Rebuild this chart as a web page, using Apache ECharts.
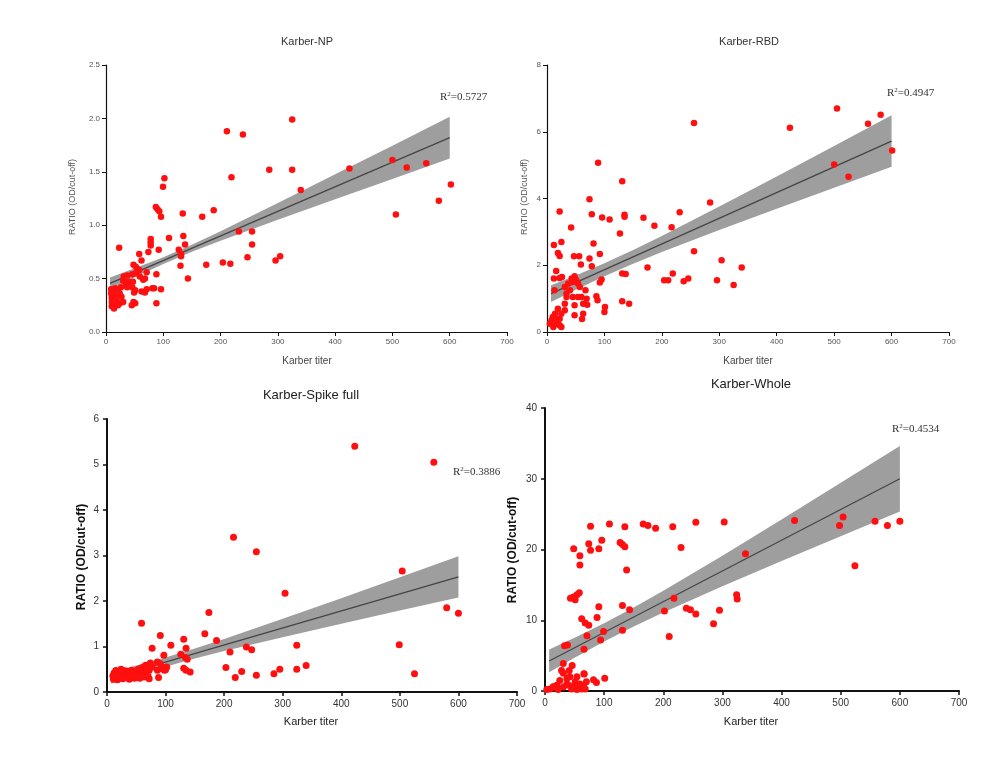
<!DOCTYPE html>
<html>
<head>
<meta charset="utf-8">
<script src="https://cdn.jsdelivr.net/npm/echarts@6/dist/echarts.min.js"></script>
<style>
html,body{margin:0;padding:0;background:#fff;}
#c{width:1008px;height:776px;}
</style>
</head>
<body>
<div id="c"></div>
<script>
// ---- Data ----
const titles = ['Karber-NP', 'Karber-RBD', 'Karber-Spike full', 'Karber-Whole'];
const r2Labels = ['0.5727', '0.4947', '0.3886', '0.4534'];
const xTicks = [0, 100, 200, 300, 400, 500, 600, 700];
const yMaxes = [2.5, 8, 6, 40];
const yIntervals = [0.5, 2, 1, 10];

const npPoints = [[23,0.79],[325,1.99],[211,1.88],[239,1.85],[285,1.52],[325,1.52],[219,1.45],[102,1.44],[99.5,1.36],[340,1.33],[425,1.53],[500,1.61],[525,1.54],[559,1.58],[602,1.38],[581,1.23],[506,1.10],[87,1.17],[90,1.15],[93,1.13],[96,1.08],[134,1.11],[168,1.08],[188,1.14],[110,0.88],[135,0.90],[138,0.82],[78,0.87],[78,0.84],[78,0.81],[74,0.75],[92,0.77],[58,0.73],[62,0.67],[127,0.77],[131,0.73],[131,0.71],[130,0.62],[232,0.94],[255,0.94],[255,0.82],[247,0.70],[304,0.71],[296,0.67],[204,0.65],[217,0.64],[175,0.63],[143,0.50],[96,0.40],[88,0.27],[88,0.54],[81,0.41],[71,0.56],[48,0.63],[52,0.61],[55,0.59],[58,0.58],[31,0.52],[37,0.53],[46,0.54],[52,0.55],[30,0.48],[39,0.47],[47,0.47],[59,0.52],[65,0.49],[68,0.50],[84,0.41],[71,0.40],[62,0.38],[68,0.37],[51,0.39],[49,0.37],[46,0.42],[43,0.44],[35,0.45],[37,0.42],[16,0.41],[21,0.39],[13,0.36],[19,0.33],[10,0.32],[16,0.28],[13,0.25],[24,0.27],[30,0.28],[10,0.24],[21,0.25],[48,0.28],[51,0.27],[45,0.25],[9,0.40],[9,0.36],[10,0.28],[24,0.36],[27,0.33],[14,0.22],[18,0.30],[26,0.42]];

const rbdPoints = [[505,6.70],[581,6.51],[559,6.24],[256,6.26],[423,6.12],[601,5.44],[500,5.02],[525,4.65],[89,5.07],[131,4.52],[284,3.88],[74,3.98],[22,3.61],[78,3.53],[96,3.43],[109,3.37],[135,3.51],[135,3.45],[168,3.42],[187,3.18],[231,3.59],[217,3.14],[42,3.13],[127,2.95],[12,2.61],[25,2.70],[81,2.65],[92,2.34],[19,2.37],[22,2.28],[47,2.27],[56,2.27],[74,2.20],[78,1.97],[59,2.02],[256,2.42],[304,2.15],[339,1.93],[175,1.93],[219,1.75],[246,1.60],[204,1.55],[211,1.55],[238,1.52],[296,1.55],[325,1.41],[131,1.75],[137,1.74],[16,1.83],[12,1.60],[22,1.62],[26,1.65],[92,1.48],[95,1.57],[43,1.60],[48,1.67],[51,1.55],[45,1.50],[54,1.45],[57,1.35],[37,1.45],[31,1.35],[40,1.25],[34,1.15],[13,1.25],[67,1.25],[54,1.05],[60,1.05],[45,1.05],[34,1.05],[86,1.07],[88,0.95],[70,0.82],[48,0.80],[131,0.92],[143,0.85],[101,0.75],[100,0.60],[69,1.00],[63,0.85],[31,0.85],[63,0.55],[48,0.50],[61,0.39],[31,0.65],[25,0.55],[22,0.40],[14,0.55],[10,0.45],[8,0.35],[16,0.25],[22,0.20],[25,0.15],[11,0.15],[5,0.25],[19,0.30],[19,0.70],[13,0.40]];

const spikePoints = [[423,5.40],[558,5.05],[216,3.40],[255,3.08],[304,2.17],[504,2.66],[174,1.75],[580,1.85],[600,1.73],[59,1.51],[167,1.28],[91,1.24],[131,1.16],[187,1.13],[109,1.03],[77,0.96],[135,0.96],[238,0.99],[247,0.93],[324,1.03],[499,1.04],[210,0.88],[97,0.81],[126,0.83],[134,0.76],[137,0.72],[203,0.54],[230,0.45],[219,0.32],[255,0.37],[285,0.40],[295,0.50],[324,0.50],[340,0.58],[525,0.40],[131,0.52],[135,0.48],[142,0.44],[88,0.32],[98,0.48],[102,0.55],[91,0.62],[94,0.51],[74,0.64],[86,0.66],[94,0.55],[100,0.49],[86,0.48],[77,0.55],[66,0.59],[72,0.48],[63,0.48],[58,0.52],[10,0.35],[12,0.42],[14,0.30],[15,0.47],[17,0.38],[18,0.27],[20,0.44],[21,0.33],[23,0.40],[24,0.50],[26,0.36],[27,0.29],[29,0.43],[30,0.38],[32,0.32],[33,0.46],[35,0.40],[36,0.35],[38,0.28],[39,0.43],[41,0.37],[42,0.48],[44,0.33],[45,0.41],[47,0.30],[48,0.45],[50,0.38],[51,0.34],[53,0.50],[54,0.42],[56,0.30],[57,0.45],[60,0.37],[62,0.55],[64,0.33],[65,0.44],[67,0.40],[69,0.52],[70,0.35],[72,0.29],[11,0.28],[13,0.38],[16,0.33],[25,0.31],[28,0.47],[46,0.36],[55,0.39],[61,0.41]];

const wholePoints = [[422,24.1],[504,24.6],[498,23.4],[558,24.0],[579,23.4],[600,24.0],[524,17.7],[339,19.4],[303,23.9],[255,23.85],[216,23.2],[187,23.0],[174,23.4],[166,23.6],[109,23.6],[77,23.3],[135,23.2],[230,20.3],[96,21.3],[74,20.8],[77,19.9],[91,20.1],[48.5,20.1],[59,19.1],[59,17.8],[127,21.0],[131,20.7],[135,20.4],[138,17.1],[43,13.1],[48,13.3],[51,12.9],[54,13.6],[58,13.9],[62,10.2],[68,9.6],[74,9.3],[91,11.9],[88,10.4],[131,12.1],[143,11.5],[71,7.8],[94,7.2],[99,8.4],[131,8.6],[66,5.9],[33,6.4],[38,6.5],[31,3.9],[46,3.6],[202,11.3],[218,13.1],[239,11.7],[246,11.5],[255,10.9],[295,11.4],[324,13.6],[325,13.0],[285,9.5],[210,7.7],[101,1.8],[66,2.4],[87,1.2],[82,1.6],[54,2.0],[28,2.9],[31,2.5],[42,2.0],[37,1.75],[51,1.3],[59,1.0],[65,0.8],[37,1.0],[25,1.5],[20,0.8],[14,0.6],[8.5,0.3],[31,0.55],[45,0.3],[54,0.2],[62,0.3],[68,0.3],[3,0.2],[22,0.2],[40,0.8],[70,1.3],[48,0.65],[41,2.9],[66,2.45],[14,0.57],[22,0.34],[48,0.57],[59,0.8],[64,0.34]];

// fitted lines (endpoints)
const fitX = [7, 600];
const npFit = [0.455, 1.82];
const rbdFit = [1.15, 5.72];
const spikeFit = [0.31, 2.53];
const wholeFit = [4.25, 30.0];

// 95% confidence band edges (read at these x positions)
const bandX = [7, 50, 100, 150, 200, 300, 400, 500, 600];
const npLo = [0.40, 0.512, 0.637, 0.751, 0.854, 1.05, 1.242, 1.433, 1.624];
const npHi = [0.51, 0.596, 0.701, 0.817, 0.944, 1.208, 1.476, 1.745, 2.016];
const rbdLo = [0.90, 1.266, 1.671, 2.048, 2.399, 3.059, 3.696, 4.325, 4.948];
const rbdHi = [1.40, 1.696, 2.063, 2.456, 2.875, 3.757, 4.662, 5.575, 6.492];
const spikeLo = [0.18, 0.361, 0.557, 0.735, 0.899, 1.204, 1.499, 1.79, 2.079];
const spikeHi = [0.44, 0.581, 0.759, 0.955, 1.167, 1.61, 2.063, 2.522, 2.981];
const wholeLo = [2.65, 4.709, 6.988, 9.113, 11.097, 14.811, 18.385, 21.89, 25.366];
const wholeHi = [5.85, 7.525, 9.588, 11.807, 14.163, 19.129, 24.255, 29.43, 34.634];

// ---- Layout ----
const grids = [
  {left: 106, top: 65, width: 401, height: 267},
  {left: 547, top: 65, width: 402, height: 267},
  {left: 107, top: 419, width: 410, height: 273},
  {left: 545, top: 408, width: 414, height: 283}
];
const small = [true, true, false, false];
const panels = [
  {pts: npPoints, fit: npFit, lo: npLo, hi: npHi},
  {pts: rbdPoints, fit: rbdFit, lo: rbdLo, hi: rbdHi},
  {pts: spikePoints, fit: spikeFit, lo: spikeLo, hi: spikeHi},
  {pts: wholePoints, fit: wholeFit, lo: wholeLo, hi: wholeHi}
];

const xAxes = [], yAxes = [], series = [];
panels.forEach((p, i) => {
  const sm = small[i];
  const axisCol = '#111';
  const lblCol = sm ? '#555' : '#333';
  xAxes.push({
    gridIndex: i, type: 'value', min: 0, max: 700, interval: 100,
    axisLine: {show: true, onZero: false, lineStyle: {color: axisCol, width: sm ? 1.2 : 2}},
    axisTick: {show: true, length: 4, lineStyle: {color: axisCol, width: sm ? 1 : 1.5}},
    axisLabel: {color: lblCol, fontSize: sm ? 8 : 10, margin: sm ? 6 : 7, fontFamily: 'Liberation Sans'},
    splitLine: {show: false}
  });
  yAxes.push({
    gridIndex: i, type: 'value', min: 0, max: yMaxes[i], interval: yIntervals[i],
    axisLine: {show: true, onZero: false, lineStyle: {color: axisCol, width: sm ? 1.2 : 2}},
    axisTick: {show: true, length: 4, lineStyle: {color: axisCol, width: sm ? 1 : 1.5}},
    axisLabel: {color: lblCol, fontSize: sm ? 8 : 10, margin: sm ? 6 : 8, fontFamily: 'Liberation Sans',
      formatter: i === 0 ? (v => v.toFixed(1)) : (v => String(v))},
    splitLine: {show: false}
  });
  series.push({
    type: 'custom', xAxisIndex: i, yAxisIndex: i, z: 1, silent: true,
    data: [0],
    renderItem: (params, api) => {
      const top = bandX.map((x, k) => api.coord([x, p.hi[k]]));
      const bot = bandX.map((x, k) => api.coord([x, p.lo[k]])).reverse();
      return {type: 'polygon', shape: {points: top.concat(bot)}, style: {fill: '#9e9e9e'}};
    }
  });
  series.push({
    type: 'line', xAxisIndex: i, yAxisIndex: i, z: 2, silent: true,
    showSymbol: false, symbol: 'none',
    data: fitX.map((x, k) => [x, p.fit[k]]),
    lineStyle: {color: '#444', width: 1.2}
  });
  series.push({
    type: 'scatter', xAxisIndex: i, yAxisIndex: i, z: 3,
    data: p.pts, symbol: 'circle', symbolSize: sm ? 6.5 : 7,
    itemStyle: {color: '#ff0f0f', opacity: 1}
  });
});

// ---- Texts ----
const graphic = [];
function txt(x, y, text, opts) {
  graphic.push(Object.assign({
    type: 'text', x: x, y: y,
    style: Object.assign({text: text, fill: '#222', font: '11px "Liberation Sans"', textAlign: 'center', textVerticalAlign: 'middle'}, opts.style || {})
  }, opts.extra || {}));
}
txt(307, 42, titles[0], {style: {font: '11px "Liberation Sans"', fill: '#333'}});
txt(749, 42, titles[1], {style: {font: '11px "Liberation Sans"', fill: '#333'}});
txt(311, 395, titles[2], {style: {font: '13px "Liberation Sans"', fill: '#222'}});
txt(751, 384, titles[3], {style: {font: '13px "Liberation Sans"', fill: '#222'}});

txt(307, 361, 'Karber titer', {style: {font: '10px "Liberation Sans"', fill: '#444'}});
txt(748, 361, 'Karber titer', {style: {font: '10px "Liberation Sans"', fill: '#444'}});
txt(311, 722, 'Karber titer', {style: {font: '11px "Liberation Sans"', fill: '#222'}});
txt(751, 722, 'Karber titer', {style: {font: '11px "Liberation Sans"', fill: '#222'}});

txt(73, 197, 'RATIO (OD/cut-off)', {style: {font: '9px "Liberation Sans"', fill: '#555'}, extra: {rotation: Math.PI / 2}});
txt(525, 197, 'RATIO (OD/cut-off)', {style: {font: '9px "Liberation Sans"', fill: '#555'}, extra: {rotation: Math.PI / 2}});
txt(82, 557, 'RATIO (OD/cut-off)', {style: {font: 'bold 12px "Liberation Sans"', fill: '#111'}, extra: {rotation: Math.PI / 2}});
txt(513, 550, 'RATIO (OD/cut-off)', {style: {font: 'bold 12px "Liberation Sans"', fill: '#111'}, extra: {rotation: Math.PI / 2}});

const r2Pos = [[440, 97], [887, 93], [453, 472], [892, 429]];
r2Pos.forEach((pos, i) => {
  graphic.push({
    type: 'text', x: pos[0], y: pos[1],
    style: {
      text: '{a|R}{s|2}{a|=' + r2Labels[i] + '}',
      textAlign: 'left', textVerticalAlign: 'middle',
      rich: {
        a: {fontFamily: 'Liberation Serif', fontSize: 11, fill: '#333', color: '#333'},
        s: {fontFamily: 'Liberation Serif', fontSize: 7, fill: '#333', color: '#333', verticalAlign: 'top', padding: [0, 0, 6, 0]}
      }
    }
  });
});

const chart = echarts.init(document.getElementById('c'), null, {renderer: 'canvas'});
chart.setOption({
  animation: false,
  backgroundColor: '#ffffff',
  grid: grids.map(g => Object.assign({containLabel: false}, g)),
  xAxis: xAxes,
  yAxis: yAxes,
  series: series,
  graphic: graphic
});
</script>
</body>
</html>
